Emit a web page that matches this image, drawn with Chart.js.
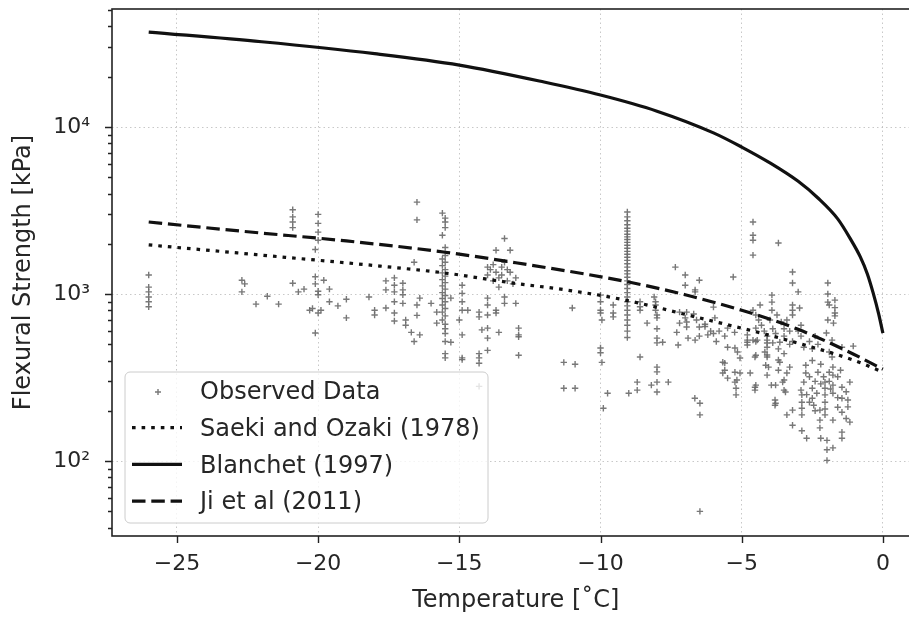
<!DOCTYPE html>
<html lang="en">
<head>
<meta charset="UTF-8">
<title>Flexural Strength vs Temperature</title>
<script src="https://cdn.jsdelivr.net/npm/chart.js@4"></script>
<style>
  html, body { margin: 0; padding: 0; background: #fff; overflow: hidden; }
  canvas { display: block; }
</style>
</head>
<body>
<canvas id="chart" width="925" height="619"></canvas>
<script>
// ---- data ----
const xTicks = [-25, -20, -15, -10, -5, 0];
const yMajorTicks = [100, 1000, 10000];
const yMajorLabels = ['10\u00B2', '10\u00B3', '10\u2074'];
const yMinorTicks = [40, 50, 60, 70, 80, 90, 200, 300, 400, 500, 600, 700, 800, 900,
  2000, 3000, 4000, 5000, 6000, 7000, 8000, 9000, 20000, 30000, 40000, 50000];

const saekiT = [-26, -22, -17.8, -15.5, -13.1, -11.2, -9.3, -6.5, -3.65, -1.06, 0];
const saekiS = [1970, 1710, 1470, 1336, 1164, 1057, 933, 720, 545, 403, 341];

const blanchetT = [-26, -22, -18, -15, -12, -10, -8, -6, -5, -4, -3, -2.3, -1.6, -1.15, -0.8, -0.55, -0.35, -0.15, 0];
const blanchetS = [37050, 32400, 27500, 23500, 18600, 15550, 12450, 9230, 7590, 6100, 4730, 3760, 2820, 2140, 1670, 1320, 1023, 760, 583];

const jiT = [-26, -22.5, -19, -15.5, -13, -9, -7, -5, -3, -1.2, 0];
const jiS = [2700, 2360, 2080, 1780, 1540, 1180, 990, 800, 615, 450, 355];

// observed data: [temperature, strength]
const observedData = [
  [-26,1300],[-26,1100],[-26,1030],[-26,960],[-26,900],[-26,840],
  [-22.7,1210],[-22.6,1150],[-22.7,1030],[-22.2,870],[-21.8,970],[-21.4,870],
  [-20.9,3200],[-20.9,2900],[-20.9,2700],[-20.9,2500],[-20.9,1160],[-20.7,1030],[-20.5,1070],
  [-20.0,3000],[-20.0,2650],[-20.0,2350],[-20.0,2100],[-20.1,1850],[-20.1,1270],[-20.1,1150],[-20.0,1040],
  [-20.0,990],[-20.2,820],[-20.0,770],[-19.9,800],[-20.1,585],[-20.3,800],
  [-19.8,1210],[-19.6,1070],[-19.6,900],[-19.3,850],[-19.0,930],[-19.0,720],[-18.2,960],[-18.0,800],[-18.0,750],
  [-17.6,1200],[-17.6,1060],[-17.6,825],
  [-17.3,1250],[-17.3,1130],[-17.3,1030],[-17.3,900],[-17.3,770],[-17.3,690],
  [-17.0,1160],[-17.0,1060],[-17.0,990],[-17.0,880],[-16.9,700],[-16.9,650],
  [-16.7,590],[-16.6,520],[-16.4,570],[-16.5,860],[-16.5,745],[-16.4,945],[-16.0,880],[-16.6,1550],[-16.5,2780],[-16.5,3550],
  [-15.6,3050],[-15.5,2850],[-15.5,2700],[-15.5,2500],[-15.6,2250],[-15.5,1900],[-15.5,1700],[-15.6,1620],
  [-15.5,1550],[-15.6,1480],[-15.5,1400],[-15.6,1340],[-15.5,1280],[-15.6,1220],[-15.5,1170],[-15.6,1120],
  [-15.5,1070],[-15.6,1020],[-15.5,980],[-15.6,940],[-15.5,900],[-15.6,860],[-15.5,820],[-15.6,780],
  [-15.5,740],[-15.6,700],[-15.5,660],[-15.5,620],[-15.5,580],[-15.5,520],[-15.5,440],[-15.5,415],
  [-15.8,780],[-15.8,670],[-15.3,945],[-15.3,515],
  [-14.9,1130],[-14.9,1010],[-14.9,900],[-14.9,800],[-15.0,700],[-14.9,570],[-14.9,415],[-14.9,405],
  [-14.7,800],[-14.3,780],[-14.3,730],[-14.2,610],[-14.0,945],[-14.0,860],[-14.0,750],[-14.0,625],[-14.0,545],[-14.0,460],
  [-13.7,800],[-13.7,770],[-13.4,960],[-13.4,880],[-13.0,880],[-12.9,625],[-12.9,570],[-12.9,430],[-13.6,590],[-12.9,555],
  [-14.3,415],[-14.3,385],[-14.3,280],[-14.3,440],
  [-14.0,1450],[-14.0,1300],[-13.9,1400],[-13.8,1500],[-13.7,1350],[-13.6,1250],[-13.5,1450],[-13.5,1300],
  [-13.4,1550],[-13.3,1200],[-13.3,1400],[-13.2,1350],[-13.0,1250],[-13.1,1150],[-13.6,1100],[-13.8,1200],
  [-13.4,2150],[-13.7,1830],[-13.2,1830],
  [-11.0,825],[-11.3,390],[-10.9,380],[-11.3,273],[-10.9,273],[-10.0,985],[-10.0,900],[-10.0,800],[-10.0,770],
  [-9.95,700],[-10.0,475],[-10.0,445],[-9.95,390],[-9.75,255],[-9.9,207],[-9.55,860],[-9.55,770],[-9.55,730],
  [-9.05,3100],[-9.05,2900],[-9.05,2750],[-9.05,2600],[-9.05,2480],[-9.05,2380],[-9.05,2280],[-9.05,2200],
  [-9.05,2120],[-9.05,2040],[-9.05,1960],[-9.05,1880],[-9.05,1800],[-9.05,1730],[-9.05,1660],[-9.05,1590],
  [-9.05,1520],[-9.05,1450],[-9.05,1380],[-9.05,1320],[-9.05,1260],[-9.05,1200],[-9.05,1140],[-9.05,1080],
  [-9.05,1020],[-9.05,960],[-9.05,900],[-9.05,850],[-9.05,800],[-9.05,750],[-9.05,700],[-9.05,650],[-9.05,600],[-9.05,550],
  [-8.6,900],[-8.6,840],[-8.6,800],[-8.35,670],[-8.1,960],[-8.05,900],[-8.05,860],[-8.05,800],[-8.0,750],
  [-8.0,720],[-8.0,620],[-8.0,545],[-7.8,515],[-7.35,1450],[-7.0,1300],[-7.0,1130],[-6.5,1210],[-6.65,1030],
  [-6.65,1060],[-6.95,780],[-6.95,680],[-6.95,635],[-7.2,670],[-7.25,495],[-6.9,545],[-6.65,530],[-6.5,635],
  [-6.2,570],[-6.0,835],[-5.95,720],[-5.5,625],[-5.3,1265],[-5.25,590],[-5.15,450],
  [-7.2,780],[-7.0,720],[-6.7,760],[-6.6,700],[-6.3,660],[-6.1,600],[-7.3,590],[-6.5,560],
  [-4.6,2700],[-4.6,2250],[-4.6,2100],[-4.6,1710],[-4.8,570],[-4.8,515],[-4.5,625],[-4.5,520],[-4.5,430],
  [-4.35,860],[-3.93,985],[-3.93,895],[-3.93,800],[-3.7,2020],[-3.75,750],[-3.65,515],[-3.2,1355],[-3.2,1165],
  [-3.0,1030],[-3.2,860],[-3.2,800],[-3.2,750],[-2.95,825],[-2.9,650],
  [-1.95,1165],[-1.95,1000],[-1.95,895],[-1.7,920],[-1.9,860],[-1.7,830],[-1.7,770],[-1.7,740],[-1.75,670],
  [-1.95,700],[-2.0,585],[-1.9,450],[-1.8,530],[-1.8,420],[-1.45,480],[-1.05,488],
  [-4.6,800],[-4.5,750],[-4.4,700],[-4.3,650],[-4.2,600],[-4.1,560],[-4.0,700],[-3.9,620],[-3.8,580],
  [-3.6,680],[-3.5,620],[-3.5,560],[-3.4,700],[-3.3,600],[-3.2,520],[-3.0,600],[-2.9,560],[-2.8,480],
  [-2.6,520],[-2.5,470],[-2.4,560],[-2.3,500],
  [-6.3,640],[-6.0,580],[-5.8,600],[-5.6,560],[-5.9,520],[-5.5,480],
  [-4.8,530],[-4.6,530],[-4.45,530],[-4.1,530],[-4.1,480],[-4.1,420],[-3.9,510],[-3.7,470],[-3.5,440],[-3.3,500],
  [-8.6,420],[-8.0,510],[-8.0,365],[-8.0,342],[-8.0,297],[-8.0,259],[-8.7,297],[-8.7,266],[-9.0,255],
  [-8.2,285],[-7.6,297],[-6.66,238],[-6.48,222],[-6.48,189],[-6.48,50],
  [-5.67,391],[-5.67,337],[-5.5,314],[-5.24,475],[-5.24,340],[-5.24,297],[-5.2,273],[-5.2,249],[-5.06,414],
  [-5.06,337],[-4.8,495],[-4.7,337],[-4.53,420],[-4.53,277],[-4.53,266],[-4.18,450],[-4.15,375],[-4.1,327],
  [-3.95,285],[-3.82,232],[-3.82,216],[-3.65,391],[-3.55,297],[-3.5,266],[-3.4,337],[-3.3,365],[-3.4,189],
  [-3.2,202],[-3.2,164],[-2.87,207],[-2.87,189],[-2.87,152],[-2.87,225],[-2.87,249],[-2.9,266],[-2.73,375],
  [-2.73,337],[-2.8,297],[-2.7,137],[-2.5,273],[-2.5,238],[-2.45,216],[-2.34,255],[-2.23,158],[-2.23,176],
  [-2.23,202],[-2.2,137],[-2.05,297],[-2.05,273],[-2.05,249],[-2.05,225],[-2.05,205],[-2.05,189],[-1.98,133],
  [-1.98,117],[-1.98,101],[-1.77,120],[-1.77,365],[-1.77,327],[-1.77,285],[-1.77,255],[-1.77,176],[-1.45,277],
  [-1.45,238],[-1.45,196],[-1.45,149],[-1.45,137],[-1.24,232],[-1.24,211],[-1.17,297],[-1.17,171],
  [-5.6,386],[-5.6,350],[-5.17,306],[-4.5,285],[-4.1,509],[-4.1,432],[-4.05,365],[-3.8,285],[-3.8,222],
  [-3.7,403],[-3.7,350],[-3.5,306],[-3.45,259],
  [-2.6,320],[-2.4,300],[-2.3,340],[-2.2,290],[-2.1,320],[-1.9,340],[-1.9,300],[-1.85,270],[-1.6,320],
  [-1.6,240],[-2.7,250],[-2.6,225],[-2.4,200],[-1.3,260],[-1.3,180],[-1.6,210],[-2.2,380],[-2.5,400],[-1.5,350]
];

const FONT = 'DejaVu Sans';
const TEXT = '#262626';
const POINT_COLOR = 'rgba(105,105,105,0.9)';
const GRID_COLOR = 'rgba(176,176,176,0.7)';

const toXY = (ts, ss) => ts.map((t, i) => ({ x: t, y: ss[i] }));

// spines + outward tick marks (matplotlib look)
const framePlugin = {
  id: 'frame',
  afterDatasetsDraw(chart) {
    const { ctx, chartArea: a, scales } = chart;
    ctx.save();
    ctx.strokeStyle = '#222';
    ctx.lineWidth = 1.6;
    ctx.strokeRect(a.left, a.top, a.right - a.left, a.bottom - a.top);
    ctx.lineWidth = 1.4;
    ctx.beginPath();
    xTicks.forEach(v => {
      const px = Math.round(scales.x.getPixelForValue(v)) + 0.5;
      ctx.moveTo(px, a.bottom);
      ctx.lineTo(px, a.bottom + 7);
    });
    yMajorTicks.concat(yMinorTicks).forEach(v => {
      const py = Math.round(scales.y.getPixelForValue(v)) + 0.5;
      const len = yMajorTicks.includes(v) ? 7 : 4;
      ctx.moveTo(a.left, py);
      ctx.lineTo(a.left - len, py);
    });
    ctx.stroke();
    ctx.restore();
  }
};

// legend box in the lower-left corner of the axes
const legendPlugin = {
  id: 'mplLegend',
  afterDraw(chart) {
    const { ctx, chartArea: a } = chart;
    const x0 = a.left + 13, w = 363, h = 151;
    const y0 = a.bottom - 13 - h, r = 5;
    ctx.save();
    ctx.beginPath();
    ctx.moveTo(x0 + r, y0);
    ctx.arcTo(x0 + w, y0, x0 + w, y0 + h, r);
    ctx.arcTo(x0 + w, y0 + h, x0, y0 + h, r);
    ctx.arcTo(x0, y0 + h, x0, y0, r);
    ctx.arcTo(x0, y0, x0 + w, y0, r);
    ctx.closePath();
    ctx.fillStyle = 'rgba(255,255,255,0.8)';
    ctx.fill();
    ctx.strokeStyle = '#cccccc';
    ctx.lineWidth = 1;
    ctx.stroke();

    const ds = chart.data.datasets;
    const items = [ds[3], ds[0], ds[1], ds[2]];
    ctx.font = `24px "${FONT}"`;
    ctx.textBaseline = 'middle';
    items.forEach((d, i) => {
      const ty = y0 + 21 + i * 36.7;
      const hy = ty - 2;
      if (d.showLine) {
        ctx.strokeStyle = d.borderColor;
        ctx.lineWidth = d.borderWidth;
        ctx.setLineDash(d.borderDash || []);
        ctx.beginPath();
        ctx.moveTo(x0 + 7, hy);
        ctx.lineTo(x0 + 57, hy);
        ctx.stroke();
        ctx.setLineDash([]);
      } else {
        ctx.strokeStyle = d.borderColor;
        ctx.lineWidth = d.borderWidth;
        ctx.beginPath();
        ctx.moveTo(x0 + 30, ty - 1);
        ctx.lineTo(x0 + 36, ty - 1);
        ctx.moveTo(x0 + 33, ty - 4);
        ctx.lineTo(x0 + 33, ty + 2);
        ctx.stroke();
      }
      ctx.fillStyle = TEXT;
      ctx.fillText(d.label, x0 + 75, ty);
    });
    ctx.restore();
  }
};

new Chart(document.getElementById('chart'), {
  type: 'scatter',
  data: {
    datasets: [
      {
        label: 'Saeki and Ozaki (1978)',
        data: toXY(saekiT, saekiS),
        showLine: true, pointRadius: 0, borderColor: '#111', borderWidth: 3.2,
        borderDash: [3.6, 6], cubicInterpolationMode: 'monotone', order: 3
      },
      {
        label: 'Blanchet (1997)',
        data: toXY(blanchetT, blanchetS),
        showLine: true, pointRadius: 0, borderColor: '#111', borderWidth: 3.2,
        cubicInterpolationMode: 'monotone', order: 2
      },
      {
        label: 'Ji et al (2011)',
        data: toXY(jiT, jiS),
        showLine: true, pointRadius: 0, borderColor: '#111', borderWidth: 3.2,
        borderDash: [13.5, 5.8], cubicInterpolationMode: 'monotone', order: 1
      },
      {
        label: 'Observed Data',
        data: observedData.map(p => ({ x: p[0], y: p[1] })),
        showLine: false, pointStyle: 'cross', pointRadius: 3.2,
        borderColor: POINT_COLOR, backgroundColor: POINT_COLOR, borderWidth: 1.4, order: 4
      }
    ]
  },
  options: {
    responsive: false,
    animation: false,
    devicePixelRatio: 1,
    layout: { padding: { left: 0, right: 5, top: 9, bottom: 0 } },
    plugins: { legend: { display: false }, tooltip: { enabled: false } },
    scales: {
      x: {
        type: 'linear',
        min: -27.3,
        max: 1.3,
        afterBuildTicks: s => { s.ticks = xTicks.map(v => ({ value: v })); },
        afterFit: s => { s.height = 83; s.paddingLeft = 0; s.paddingRight = 0; },
        ticks: {
          autoSkip: false, maxRotation: 0, padding: 15,
          font: { family: FONT, size: 22 }, color: TEXT,
          callback: v => (v < 0 ? '\u2212' + (-v) : String(v))
        },
        grid: { drawTicks: false, color: GRID_COLOR, lineWidth: 1 },
        border: { display: false, dash: [1.5, 3] },
        title: {
          display: true, text: 'Temperature [\u02DAC]',
          font: { family: FONT, size: 24 }, color: TEXT, padding: { top: 0, bottom: 4 }
        }
      },
      y: {
        type: 'logarithmic',
        min: 35.6,
        max: 50900,
        afterBuildTicks: s => {
          s.ticks = yMajorTicks.concat(yMinorTicks).sort((p, q) => p - q).map(v => ({ value: v }));
        },
        afterFit: s => { s.width = 112; s.paddingTop = 0; s.paddingBottom = 0; },
        ticks: {
          autoSkip: false, padding: 22,
          font: { family: FONT, size: 22 }, color: TEXT,
          callback: v => {
            const i = yMajorTicks.indexOf(v);
            return i >= 0 ? yMajorLabels[i] : '';
          }
        },
        grid: {
          drawTicks: false, lineWidth: 1,
          color: c => (yMajorTicks.includes(c.tick.value) ? GRID_COLOR : 'rgba(0,0,0,0)')
        },
        border: { display: false, dash: [1.5, 3] },
        title: {
          display: true, text: 'Flexural Strength [kPa]',
          font: { family: FONT, size: 24 }, color: TEXT, padding: { top: 9, bottom: 0 }
        }
      }
    }
  },
  plugins: [framePlugin, legendPlugin]
});
</script>
</body>
</html>
